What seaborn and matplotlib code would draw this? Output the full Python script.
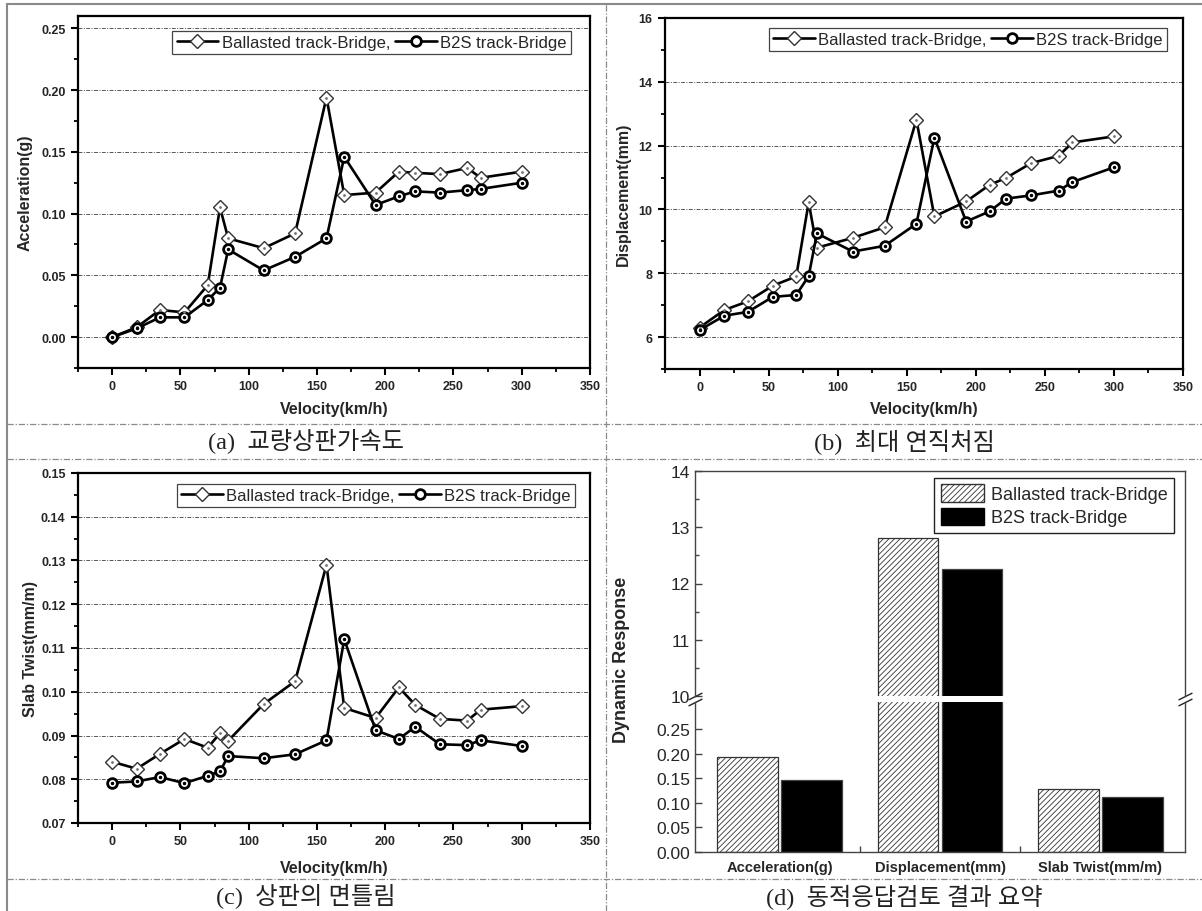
import numpy as np
import pandas as pd
import matplotlib.pyplot as plt
import matplotlib.ticker as mticker
from matplotlib.lines import Line2D
from matplotlib.patches import Patch
import seaborn as sns

# Train speeds (km/h) used in the dynamic analysis
speed = [0, 18, 35, 53, 70, 79, 85, 111, 134, 157, 170, 193, 210, 222, 240, 260, 270, 300]

# (a) deck acceleration (g)
acc_ballast = [0.000, 0.008, 0.022, 0.020, 0.042, 0.105, 0.080, 0.072, 0.084, 0.194,
               0.115, 0.117, 0.134, 0.133, 0.132, 0.137, 0.129, 0.134]
acc_b2s = [0.000, 0.007, 0.016, 0.016, 0.030, 0.040, 0.071, 0.054, 0.065, 0.080,
           0.146, 0.107, 0.114, 0.118, 0.117, 0.119, 0.120, 0.125]

# (b) max vertical displacement (mm)
disp_ballast = [6.30, 6.85, 7.12, 7.61, 7.90, 10.22, 8.80, 9.11, 9.44, 12.81,
                9.78, 10.25, 10.77, 10.99, 11.45, 11.68, 12.10, 12.29]
disp_b2s = [6.22, 6.67, 6.79, 7.26, 7.32, 7.91, 9.25, 8.68, 8.86, 9.55,
            12.25, 9.62, 9.94, 10.34, 10.44, 10.59, 10.86, 11.32]

# (c) slab twist (mm/m)
twist_ballast = [0.0840, 0.0824, 0.0858, 0.0892, 0.0872, 0.0905, 0.0888, 0.0972, 0.1024, 0.1290,
                 0.0963, 0.0940, 0.1010, 0.0970, 0.0938, 0.0934, 0.0959, 0.0967]
twist_b2s = [0.0792, 0.0795, 0.0805, 0.0791, 0.0808, 0.0818, 0.0853, 0.0848, 0.0857, 0.0889,
             0.1120, 0.0912, 0.0892, 0.0920, 0.0880, 0.0878, 0.0889, 0.0876]

# (d) summary of maximum responses
items = ["Acceleration(g)", "Displacement(mm)", "Slab Twist(mm/m)"]
max_ballast = [0.194, 12.81, 0.129]
max_b2s = [0.146, 12.25, 0.112]

lab_ballast = "Ballasted track-Bridge"
lab_b2s = "B2S track-Bridge"

sns.set_style("ticks")
plt.rcParams['font.family'] = ['Liberation Sans', 'Noto Sans CJK KR', 'DejaVu Sans']
plt.rcParams['hatch.linewidth'] = 0.6

W, H = 1202, 912


def pos(l, t, r, b):
    return [l / W, 1 - b / H, (r - l) / W, (b - t) / H]


fig = plt.figure(figsize=(W / 100, H / 100), dpi=100)
fig.patch.set_facecolor("white")

# frame and dividers of the table layout
gray = "#8a8a8a"
dash = (0, (5, 1.5, 1, 1.5))
fig.add_artist(Line2D([7 / W, 1], [1 - 5 / H, 1 - 5 / H], color=gray, lw=1.5))
fig.add_artist(Line2D([7 / W, 7 / W], [0, 1 - 5 / H], color=gray, lw=1.5))
fig.add_artist(Line2D([606 / W, 606 / W], [0, 1 - 5 / H], color=gray, lw=0.9, ls=dash))
for yy in [425, 460, 880]:
    fig.add_artist(Line2D([7 / W, 1], [1 - yy / H, 1 - yy / H], color=gray, lw=0.9, ls=dash))


def line_panel(ax, yb, yc, ylabel, ylab_x, xlab_y, leg_anchor):
    sns.lineplot(x=speed, y=yb, ax=ax, color="black", lw=1.9, marker="D", markersize=7.5,
                 markerfacecolor="white", markeredgecolor="#333333", markeredgewidth=1.0,
                 label=lab_ballast + ",", zorder=3)
    sns.lineplot(x=speed, y=yc, ax=ax, color="black", lw=1.9, marker="o", markersize=7,
                 markerfacecolor="white", markeredgecolor="black", markeredgewidth=2.0,
                 label=lab_b2s, zorder=4)
    ax.plot(speed, yb, ls="none", marker=".", ms=2, color="#777777", zorder=5)
    ax.plot(speed, yc, ls="none", marker=".", ms=3, color="black", zorder=5)
    ax.set_xlim(-25, 350)
    ax.xaxis.set_major_locator(mticker.MultipleLocator(50))
    ax.xaxis.set_minor_locator(mticker.MultipleLocator(25))
    ax.grid(axis="y", color="#555555", lw=0.7, ls=(0, (4, 1.5, 1, 1.5)))
    ax.set_axisbelow(True)
    for s in ax.spines.values():
        s.set_linewidth(1.6)
        s.set_color("black")
    ax.tick_params(which="major", direction="out", length=5, width=1.5, labelsize=9,
                   color="black", pad=4)
    ax.tick_params(which="minor", direction="out", length=3, width=1.3, color="black")
    ax.set_xlabel("Velocity(km/h)", fontsize=11.5, fontweight="bold")
    ax.set_ylabel(ylabel, fontsize=11.5, fontweight="bold")
    ax.yaxis.set_label_coords(ylab_x, 0.5)
    ax.xaxis.set_label_coords(0.5, xlab_y)
    leg = ax.legend(ncol=2, loc="upper right", bbox_to_anchor=leg_anchor, borderaxespad=0,
                    fontsize=12, frameon=True, fancybox=False, framealpha=1,
                    edgecolor="#444444", handlelength=2.5, handletextpad=0.2,
                    columnspacing=0.3, borderpad=0.25)
    leg.get_frame().set_linewidth(0.9)


# (a) acceleration
ax_a = fig.add_axes(pos(78, 17, 590, 369))
line_panel(ax_a, acc_ballast, acc_b2s, "Acceleration(g)", -0.088, -0.094, (0.962, 0.958))
ax_a.set_ylim(-0.025, 0.26)
ax_a.yaxis.set_major_locator(mticker.MultipleLocator(0.05))
ax_a.yaxis.set_minor_locator(mticker.MultipleLocator(0.025))
ax_a.yaxis.set_major_formatter(mticker.FormatStrFormatter("%.2f"))

# (b) displacement
ax_b = fig.add_axes(pos(665, 19, 1183, 370))
line_panel(ax_b, disp_ballast, disp_b2s, "Displacement(mm)", -0.066, -0.091, (0.969, 0.972))
ax_b.set_ylim(5, 16)
ax_b.yaxis.set_major_locator(mticker.MultipleLocator(2))
ax_b.yaxis.set_minor_locator(mticker.MultipleLocator(1))

# (c) slab twist
ax_c = fig.add_axes(pos(78, 474, 590, 824))
line_panel(ax_c, twist_ballast, twist_b2s, "Slab Twist(mm/m)", -0.078, -0.105, (0.971, 0.969))
ax_c.set_ylim(0.07, 0.15)
ax_c.yaxis.set_major_locator(mticker.MultipleLocator(0.01))
ax_c.yaxis.set_minor_locator(mticker.MultipleLocator(0.005))
ax_c.yaxis.set_major_formatter(mticker.FormatStrFormatter("%.2f"))

for ax in [ax_a, ax_b, ax_c]:
    plt.setp(ax.get_xticklabels(), fontweight="bold")
    plt.setp(ax.get_yticklabels(), fontweight="bold")

# (d) summary bars with a broken y axis
bars = pd.DataFrame({
    "Item": items * 2,
    "Value": max_ballast + max_b2s,
    "Track": [lab_ballast] * len(items) + [lab_b2s] * len(items),
})

ax_top = fig.add_axes(pos(695, 472, 1185, 697))
ax_low = fig.add_axes(pos(695, 703, 1185, 853))
for ax in [ax_top, ax_low]:
    sns.barplot(data=bars, x="Item", y="Value", hue="Track", ax=ax,
                palette=["white", "black"], saturation=1, width=0.8, gap=0.06,
                edgecolor="#444444", linewidth=0.9, legend=False)
    for bar in ax.containers[0]:
        bar.set_hatch("//////")
        bar.set_edgecolor("#333333")
    for s in ax.spines.values():
        s.set_linewidth(1.0)
        s.set_color("#444444")
    ax.set_xlabel("")
    ax.set_ylabel("")
    ax.tick_params(which="both", direction="in", color="#444444", labelsize=11)
    ax.tick_params(which="major", length=5, width=1)
    ax.tick_params(which="minor", length=3, width=1)

ax_top.set_ylim(10, 14)
ax_top.yaxis.set_major_locator(mticker.MultipleLocator(1))
ax_top.yaxis.set_minor_locator(mticker.MultipleLocator(0.5))
ax_top.spines["bottom"].set_visible(False)
ax_top.set_xticks([])
ax_top.tick_params(axis="y", labelsize=12.5)

ax_low.set_ylim(0, 0.305)
ax_low.set_yticks(np.arange(0, 0.26, 0.05))
ax_low.yaxis.set_major_formatter(mticker.FormatStrFormatter("%.2f"))
ax_low.spines["top"].set_visible(False)
ax_low.tick_params(axis="y", labelsize=12.5)
ax_low.set_xticks(range(len(items)))
ax_low.set_xticklabels(items, fontsize=10.5, fontweight="bold")
ax_low.set_xticks([0.5, 1.5], minor=True)
ax_low.tick_params(axis="x", which="major", length=0, pad=6)
ax_low.tick_params(axis="x", which="minor", length=4)

brk = dict(marker=[(-1, -0.5), (1, 0.5)], markersize=10, linestyle="none",
           color="#222222", mec="#222222", mew=1, clip_on=False)
ax_top.plot([0, 1], [0, 0], transform=ax_top.transAxes, **brk)
ax_low.plot([0, 1], [1, 1], transform=ax_low.transAxes, **brk)

handles = [Patch(facecolor="white", edgecolor="#333333", hatch="//////", label=lab_ballast),
           Patch(facecolor="black", edgecolor="black", label=lab_b2s)]
leg = ax_top.legend(handles=handles, loc="upper right", bbox_to_anchor=(0.978, 0.969),
                    borderaxespad=0, fontsize=13, fancybox=False, framealpha=1,
                    edgecolor="#222222", handlelength=2.4, handleheight=1.1,
                    handletextpad=0.4, borderpad=0.35, labelspacing=0.25)
leg.get_frame().set_linewidth(1.0)

fig.text(622 / W, 1 - 660 / H, "Dynamic Response", rotation=90, ha="center", va="center",
         fontsize=13, fontweight="bold")

# captions under each panel
cap_font = ['Liberation Serif', 'Noto Sans CJK KR', 'DejaVu Sans']
captions = ["(a)  교량상판가속도", "(b)  최대 연직처짐", "(c)  상판의 면틀림", "(d)  동적응답검토 결과 요약"]
cap_xy = [(306, 442), (904, 442), (306, 897), (904, 897)]
for txt, (cx, cy) in zip(captions, cap_xy):
    fig.text(cx / W, 1 - cy / H, txt, ha="center", va="center", fontsize=17.5,
             family=cap_font, color="#222222")

fig.savefig("out.png", dpi=100)
